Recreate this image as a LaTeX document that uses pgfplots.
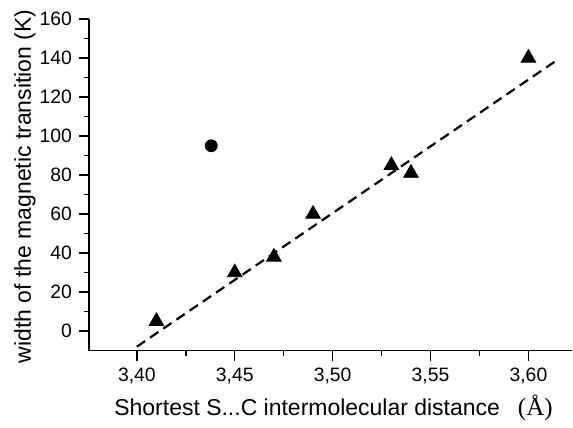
\documentclass[border=0pt]{standalone}
\usepackage{fontspec}
\setmainfont{Liberation Sans}
\newfontfamily\serifA{Liberation Serif}
\usepackage{pgfplots}
\pgfplotsset{compat=1.18}

\begin{document}
\begin{tikzpicture}
\begin{axis}[
    name=ax,
    scale only axis,
    width=242pt,
    height=166pt,
    xmin=3.3755, xmax=3.6224,
    ymin=-10, ymax=160,
    axis x line=bottom,
    axis y line=left,
    axis line style={-, line width=0.7pt},
    tick align=outside,
    tick style={black, line width=0.7pt},
    major tick length=5pt,
    minor tick length=2.5pt,
    xtick={3.40,3.45,3.50,3.55,3.60},
    ytick={0,20,...,160},
    minor x tick num=1,
    minor y tick num=1,
    /pgf/number format/assume math mode=true,
    xticklabel style={/pgf/number format/.cd, fixed, fixed zerofill, precision=2, use comma},
    ticklabel style={font=\fontsize{9.7}{11}\selectfont},
    label style={font=\fontsize{11.5}{13}\selectfont},
    xlabel={Shortest S...C intermolecular distance\hspace{9pt}{\serifA\fontsize{12.5}{13}\selectfont(Å)}},
    ylabel={width of the magnetic transition (K)},
    xlabel style={at={(axis description cs:0.506,-0.1717)}, anchor=center},
    ylabel style={at={(axis description cs:-0.1322,0.495)}, anchor=center},
    clip=false,
]
\addplot[only marks, mark=triangle*, mark size=4.2pt, black] coordinates {
    (3.41,5) (3.45,30) (3.47,38) (3.49,60) (3.53,85) (3.54,81) (3.60,140)
};
\addplot[only marks, mark=*, mark size=3pt, black] coordinates {(3.438,95)};
\addplot[black, line width=1.1pt, dash pattern=on 5pt off 3pt] coordinates {(3.40,-8) (3.614,138.5)};
\end{axis}
\path ([xshift=-44.5pt,yshift=-36pt]ax.south west) rectangle ([yshift=9.5pt]ax.north east);
\end{tikzpicture}
\end{document}
